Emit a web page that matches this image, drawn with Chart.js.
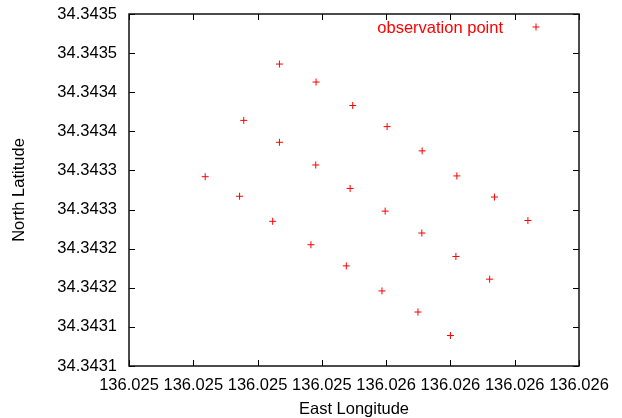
<!DOCTYPE html>
<html>
<head>
<meta charset="utf-8">
<script src="https://cdn.jsdelivr.net/npm/chart.js@4/dist/chart.umd.min.js"></script>
<style>
  html, body { margin: 0; padding: 0; background: #fff; }
  #wrap { width: 622px; height: 418px; position: relative; }
</style>
</head>
<body>
<div id="wrap"><canvas id="c" width="622" height="418"></canvas></div>
<script>
// ---- data ----
const seriesLabel = "observation point";
const longitudes = [
  136.025268, 136.025382, 136.025496, 136.025603, 136.025712, 136.025820, 136.025937, 136.026041,
  136.025157, 136.025268, 136.025381, 136.025488, 136.025597, 136.025711, 136.025817, 136.025922,
  136.025037, 136.025144, 136.025247, 136.025366, 136.025476, 136.025587, 136.025699, 136.025800
];
const latitudes = [
  34.343436, 34.343413, 34.343383, 34.343356, 34.343325, 34.343293, 34.343266, 34.343236,
  34.343364, 34.343336, 34.343307, 34.343277, 34.343248, 34.343220, 34.343190, 34.343161,
  34.343292, 34.343267, 34.343235, 34.343205, 34.343178, 34.343146, 34.343119, 34.343089
];
const xTickValues = [136.0248, 136.0250, 136.0252, 136.0254, 136.0256, 136.0258, 136.0260, 136.0262];
const xTickLabels = ["136.025", "136.025", "136.025", "136.025", "136.026", "136.026", "136.026", "136.026"];
const yTickValues = [34.34305, 34.34310, 34.34315, 34.34320, 34.34325, 34.34330, 34.34335, 34.34340, 34.34345, 34.34350];
const yTickLabels = ["34.3431", "34.3431", "34.3432", "34.3432", "34.3433", "34.3433", "34.3434", "34.3434", "34.3435", "34.3435"];
const xTitle = "East Longitude";
const yTitle = "North Latitude";

const points = longitudes.map((lon, i) => ({ x: lon, y: latitudes[i] }));
const FONT = "'Liberation Sans', Arial, sans-serif";
const FS = 16.5;
const RED = "#ff0000";

const framePlugin = {
  id: 'frame',
  afterDraw(chart) {
    const { ctx, chartArea: a, scales: { x, y } } = chart;
    ctx.save();
    ctx.strokeStyle = '#000';
    ctx.lineWidth = 1;
    ctx.beginPath();
    const L = 6;
    x.ticks.forEach(t => {
      const px = Math.round(x.getPixelForValue(t.value)) + 0.5;
      ctx.moveTo(px, a.bottom); ctx.lineTo(px, a.bottom - L);
      ctx.moveTo(px, a.top); ctx.lineTo(px, a.top + L);
    });
    y.ticks.forEach(t => {
      const py = Math.round(y.getPixelForValue(t.value)) + 0.5;
      ctx.moveTo(a.left, py); ctx.lineTo(a.left + L, py);
      ctx.moveTo(a.right, py); ctx.lineTo(a.right - L, py);
    });
    ctx.stroke();
    ctx.lineWidth = 1.5;
    ctx.strokeStyle = '#111';
    ctx.strokeRect(Math.round(a.left), Math.round(a.top), Math.round(a.width), Math.round(a.height));

    // key (legend) inside top-right
    const ds = chart.data.datasets[0];
    ctx.fillStyle = RED;
    ctx.strokeStyle = RED;
    ctx.lineWidth = 1;
    ctx.font = FS + "px " + FONT;
    ctx.textAlign = 'right';
    ctx.textBaseline = 'middle';
    ctx.fillText(ds.label, a.right - 76, a.top + 14);
    Chart.helpers.drawPoint(ctx, { pointStyle: 'cross', radius: 3.5, borderWidth: 1, rotation: 0 }, a.right - 43, a.top + 13);
    ctx.restore();
  }
};

new Chart(document.getElementById('c'), {
  type: 'scatter',
  data: {
    datasets: [{
      label: seriesLabel,
      data: points,
      pointStyle: 'cross',
      pointRadius: 3.5,
      pointHoverRadius: 3.5,
      borderColor: RED,
      backgroundColor: RED,
      borderWidth: 1
    }]
  },
  options: {
    responsive: false,
    animation: false,
    events: [],
    layout: { padding: { top: 14, right: 43, left: 0, bottom: 0 } },
    plugins: { legend: { display: false }, tooltip: { enabled: false } },
    scales: {
      x: {
        type: 'linear',
        min: xTickValues[0],
        max: xTickValues[xTickValues.length - 1],
        afterBuildTicks: s => { s.ticks = xTickValues.map(v => ({ value: v })); },
        afterFit: s => { s.height = 52; s.paddingLeft = 0; s.paddingRight = 0; },
        grid: { display: false, drawTicks: false },
        border: { display: false },
        ticks: {
          autoSkip: false, maxRotation: 0, padding: 10,
          color: '#000', font: { size: FS, family: FONT },
          callback: (v, i) => xTickLabels[i]
        },
        title: { display: true, text: xTitle, color: '#000', font: { size: FS, family: FONT }, padding: { top: 0, bottom: -1.5 } }
      },
      y: {
        type: 'linear',
        min: yTickValues[0],
        max: yTickValues[yTickValues.length - 1],
        afterBuildTicks: s => { s.ticks = yTickValues.map(v => ({ value: v })); },
        afterFit: s => { s.width = 129; s.paddingTop = 0; s.paddingBottom = 0; },
        grid: { display: false, drawTicks: false },
        border: { display: false },
        ticks: {
          autoSkip: false, padding: 12,
          color: '#000', font: { size: FS, family: FONT },
          callback: (v, i) => yTickLabels[i]
        },
        title: { display: true, text: yTitle, color: '#000', font: { size: FS, family: FONT }, padding: { top: 9.5, bottom: 0 } }
      }
    }
  },
  plugins: [framePlugin]
});
</script>
</body>
</html>
